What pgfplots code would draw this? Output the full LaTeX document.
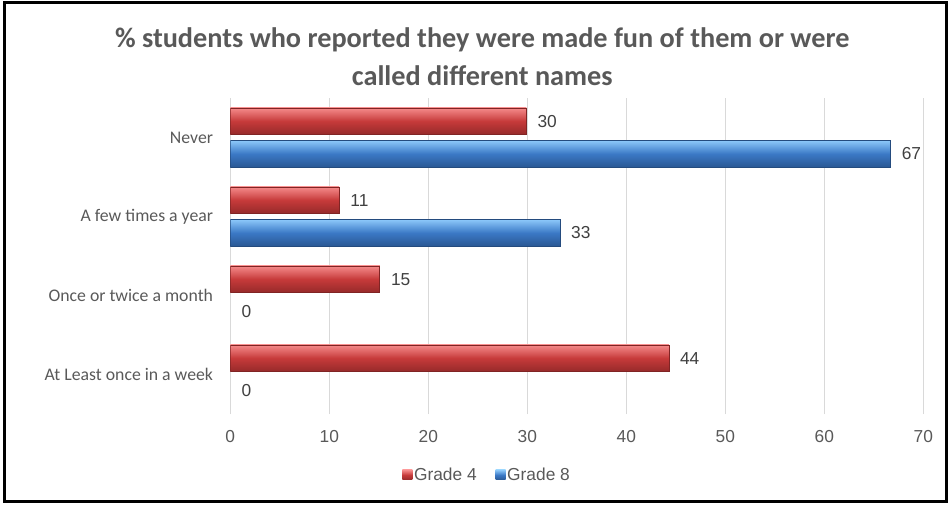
\documentclass[border=0pt]{standalone}
\usepackage{pgfplots}
\pgfplotsset{compat=1.18}
\usepackage{fontspec}
\setmainfont{Liberation Sans}
\newfontfamily\calibri{Carlito}
\definecolor{txt}{HTML}{595959}
\definecolor{lbl}{HTML}{404040}
\definecolor{gridc}{HTML}{D9D9D9}
\definecolor{rtop}{HTML}{F58A8A}
\definecolor{rmid}{HTML}{C63A3A}
\definecolor{rbot}{HTML}{962A2A}
\definecolor{btop}{HTML}{8CC8FA}
\definecolor{bmid}{HTML}{3B79C6}
\definecolor{bbot}{HTML}{2A5894}
\pgfplotsset{
    redbar/.style={draw=rbot!85!black, line width=0.4pt, top color=rtop, bottom color=rbot, middle color=rmid},
    bluebar/.style={draw=bbot!85!black, line width=0.4pt, top color=btop, bottom color=bbot, middle color=bmid},
}
\begin{document}
\begin{tikzpicture}
% 1px = 0.75pt, origin at the lower left corner of the plot area
\useasboundingbox (-172.7pt,-67.5pt) rectangle (539.8pt,310.5pt);
\begin{axis}[
    scale only axis,
    width=519.75pt, height=237pt,
    xmin=0, xmax=70, ymin=-0.5, ymax=3.5,
    xtick={0,10,...,70},
    ytick={0,1,2,3},
    yticklabels={At Least once in a week, Once or twice a month, A few times a year, Never},
    /pgf/number format/assume math mode=true,
    axis line style={draw=none},
    major tick length=0pt,
    xmajorgrids,
    grid style={gridc, line width=0.75pt},
    xticklabel style={font=\fontsize{13}{15}\selectfont, text=txt, anchor=center, yshift=-16.9pt},
    yticklabel style={font=\calibri\fontsize{13.3}{15}\selectfont, text=txt, anchor=east, inner sep=0pt, xshift=-12.75pt},
    xbar, bar width=0.335, bar shift=0pt,
    nodes near coords,
    nodes near coords style={font=\fontsize{13}{15}\selectfont, text=lbl, anchor=west, inner sep=0pt, xshift=8.25pt,
        /pgf/number format/.cd, fixed, precision=0},
    legend columns=2,
    legend style={at={(0.3704,-0.193)}, anchor=center, draw=none, fill=none,
        font=\fontsize{13}{15}\selectfont, text=txt,
        inner sep=0pt, nodes={inner sep=1.2pt},
        /tikz/every even column/.append style={column sep=13pt}},
    legend image code/.code={\path[#1, draw=none] (0pt,-3.75pt) rectangle (7.5pt,3.75pt);},
]
% Grade 4 (red, upper bar of each pair); one plot per bar so each bar gets its own shading
\addplot[redbar] coordinates {(29.9,3.206)};
% Grade 8 (blue, lower bar)
\addplot[bluebar] coordinates {(66.7,2.794)};
\addplot[redbar, forget plot] coordinates {(11.0,2.206)};
\addplot[redbar, forget plot] coordinates {(15.1,1.206)};
\addplot[redbar, forget plot] coordinates {(44.3,0.206)};
\addplot[bluebar, forget plot] coordinates {(33.3,1.794)};
\addplot[bluebar, draw=none, forget plot] coordinates {(0,0.794)};
\addplot[bluebar, draw=none, forget plot] coordinates {(0,-0.206)};
\legend{Grade 4, Grade 8}
\end{axis}
\node[align=center, font=\calibri\bfseries\fontsize{21.2}{28.5}\selectfont, text=txt] at (189pt,268pt)
    {\% students who reported they were made fun of them or were\\called different names};
\draw[black, line width=2.25pt] (-169.35pt,-65.25pt) rectangle (537.15pt,308.6pt);
\end{tikzpicture}
\end{document}
